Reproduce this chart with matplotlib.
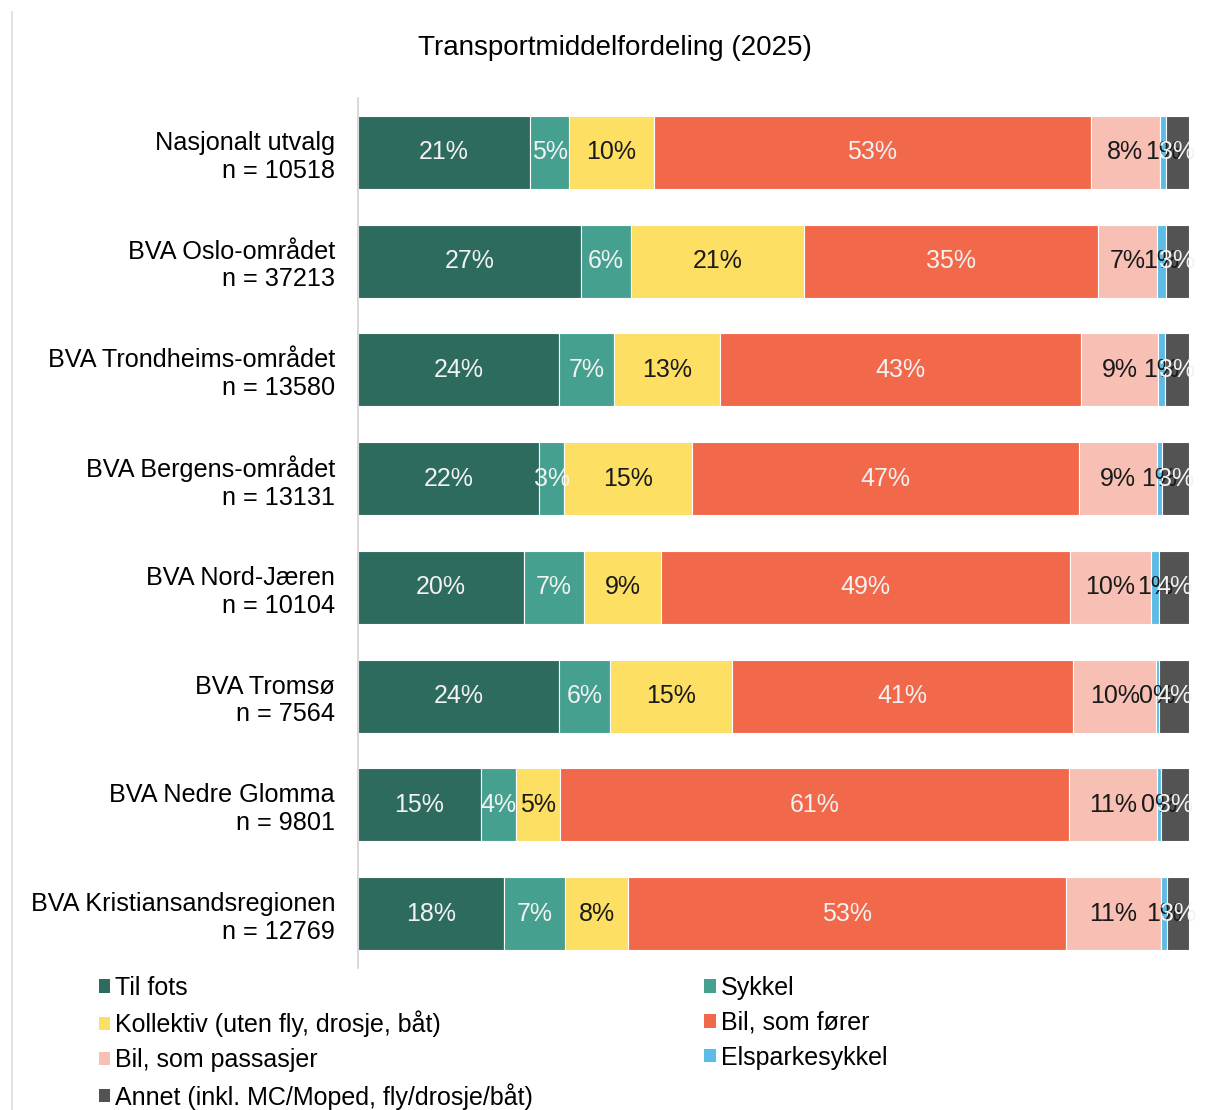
import matplotlib
matplotlib.use("Agg")
import matplotlib.pyplot as plt
from matplotlib.lines import Line2D
from matplotlib.patches import Patch
import numpy as np

plt.rcParams['font.family'] = ['Liberation Sans', 'DejaVu Sans']

categories = [
    "Nasjonalt utvalg\nn = 10518",
    "BVA Oslo-området\nn = 37213",
    "BVA Trondheims-området\nn = 13580",
    "BVA Bergens-området\nn = 13131",
    "BVA Nord-Jæren\nn = 10104",
    "BVA Tromsø\nn = 7564",
    "BVA Nedre Glomma\nn = 9801",
    "BVA Kristiansandsregionen\nn = 12769",
]

series_names = [
    "Til fots",
    "Sykkel",
    "Kollektiv (uten fly, drosje, båt)",
    "Bil, som fører",
    "Bil, som passasjer",
    "Elsparkesykkel",
    "Annet (inkl. MC/Moped, fly/drosje/båt)",
]

til_fots   = [20.7, 26.8, 24.2, 21.8, 20.0, 24.2, 14.8, 17.6]
sykkel     = [4.7, 6.1, 6.6, 3.0, 7.2, 6.1, 4.2, 7.3]
kollektiv  = [10.2, 20.8, 12.8, 15.4, 9.3, 14.7, 5.3, 7.6]
bil_forer  = [52.6, 35.3, 43.4, 46.6, 49.2, 41.1, 61.2, 52.7]
bil_pass   = [8.3, 7.2, 9.3, 9.3, 9.7, 9.9, 10.7, 11.4]
elspark    = [0.7, 1.0, 0.8, 0.7, 1.0, 0.4, 0.4, 0.8]
annet      = [2.8, 2.8, 2.9, 3.2, 3.6, 3.6, 3.4, 2.6]

series = [til_fots, sykkel, kollektiv, bil_forer, bil_pass, elspark, annet]
colors = ["#2E6B5F", "#46A08F", "#FCDF63", "#F2684B", "#F8C0B4", "#5BBDE5", "#535353"]
label_colors = ["#F2F2F2", "#F2F2F2", "#1a1a1a", "#F2F2F2", "#1a1a1a", "#1a1a1a", "#F2F2F2"]

fig = plt.figure(figsize=(12.09, 11.10), dpi=100)
ax = fig.add_axes([358/1209, 1 - 968/1110, 831/1209, 870/1110])

y = np.arange(len(categories))
left = np.zeros(len(categories))
handles = []
for vals, col, lc, name in zip(series, colors, label_colors, series_names):
    vals = np.array(vals)
    ax.barh(y, vals, left=left, height=0.67, color=col, edgecolor="white", linewidth=0.8)
    for yi, (l, v) in enumerate(zip(left, vals)):
        ax.text(l + v / 2, yi, f"{v:.0f}%", ha="center", va="center",
                color=lc, fontsize=18)
    left += vals
    handles.append(Patch(facecolor=col, edgecolor="none", label=name))

ax.set_xlim(0, 100)
ax.set_ylim(len(categories) - 0.5, -0.5)
ax.set_yticks(y)
ax.set_yticklabels(categories, fontsize=18.2, linespacing=1.2, ha="right")
ax.tick_params(axis="y", length=0, pad=16.5)
ax.set_xticks([])
for s in ["top", "right", "bottom"]:
    ax.spines[s].set_visible(False)
ax.spines["left"].set_color("#D8CFD3")
ax.spines["left"].set_linewidth(1.2)

fig.text(615/1209, 1 - 48/1110, "Transportmiddelfordeling (2025)",
         ha="center", va="center", fontsize=20)

# page border line on the left
fig.add_artist(Line2D([12/1209, 12/1209], [0, 1 - 12/1110],
                      transform=fig.transFigure, color="#E3DADD", linewidth=1.2))

order = [0, 2, 4, 6, 1, 3, 5]
leg = fig.legend([handles[i] for i in order], [series_names[i] for i in order],
                 ncol=2, loc="upper left", bbox_to_anchor=(99/1209, 1 - 976/1110),
                 frameon=False, fontsize=18, handlelength=0.45, handleheight=0.45,
                 handletextpad=0.2, labelspacing=0.43, columnspacing=6.85,
                 borderaxespad=0, borderpad=0)

fig.savefig("out.png", dpi=100, facecolor="white")
